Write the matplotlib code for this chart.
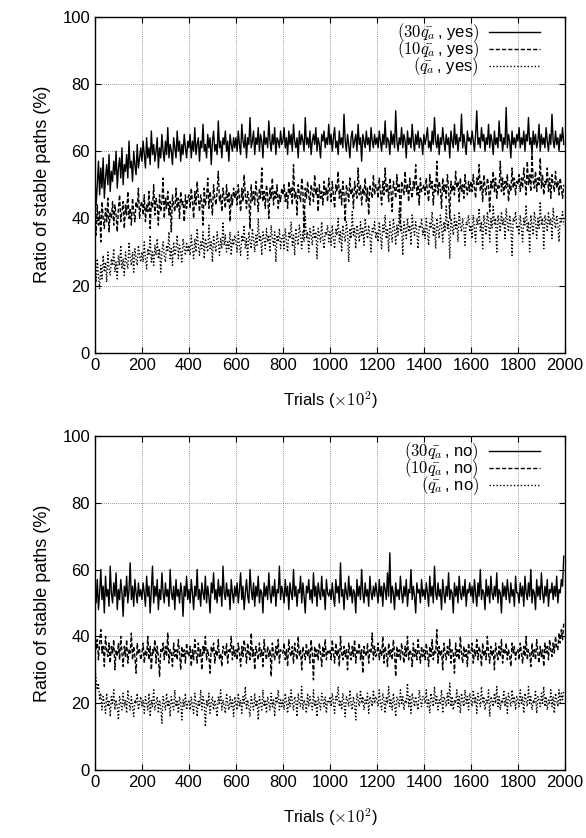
import numpy as np
import matplotlib
matplotlib.use("Agg")
import matplotlib.pyplot as plt

plt.rcParams["font.family"] = ["Liberation Sans", "DejaVu Sans"]
plt.rcParams["mathtext.fontset"] = "cm"

# one value every 5 trials (x10^2)
step = 5

yes_30 = [
    53, 44, 50, 57, 47, 55, 49, 58, 46, 52, 56, 50, 59, 48, 54, 51, 57, 53, 60, 49, 55, 58, 52, 61, 50, 56, 54, 59, 52, 63, 55, 57, 51, 60, 56, 53, 62, 55, 58, 61,
    57, 63, 59, 55, 64, 58, 61, 56, 66, 59, 62, 57, 60, 64, 55, 61, 58, 65, 60, 57, 63, 59, 67, 58, 62, 60, 56, 64, 61, 58, 66, 60, 63, 57, 62, 59, 65, 61, 58, 63,
    61, 65, 58, 63, 60, 67, 59, 62, 64, 57, 63, 61, 68, 60, 62, 58, 65, 61, 64, 56, 63, 66, 60, 62, 59, 69, 61, 63, 58, 64, 62, 66, 60, 63, 57, 65, 62, 60, 64, 61,
    64, 60, 66, 62, 59, 68, 63, 61, 65, 58, 64, 62, 70, 61, 63, 66, 59, 64, 62, 67, 60, 65, 63, 58, 66, 62, 64, 61, 69, 63, 60, 65, 62, 67, 59, 64, 63, 61, 66, 62,
    63, 67, 61, 64, 59, 66, 62, 65, 60, 68, 63, 61, 64, 58, 66, 62, 65, 63, 60, 70, 62, 64, 61, 66, 59, 63, 65, 62, 67, 60, 64, 62, 58, 65, 63, 66, 61, 64, 62, 68,
    62, 65, 60, 64, 67, 61, 63, 59, 66, 62, 64, 61, 71, 63, 60, 65, 62, 58, 64, 66, 61, 63, 65, 60, 68, 62, 64, 57, 65, 63, 61, 66, 62, 64, 60, 67, 63, 61, 65, 62,
    64, 61, 66, 63, 60, 65, 62, 69, 61, 64, 63, 59, 66, 62, 65, 61, 72, 63, 60, 64, 62, 67, 61, 65, 63, 58, 66, 62, 64, 61, 68, 63, 60, 65, 62, 66, 61, 64, 63, 59,
    65, 62, 64, 67, 61, 63, 60, 66, 62, 70, 63, 61, 65, 59, 64, 62, 67, 63, 60, 65, 62, 64, 58, 66, 63, 61, 68, 62, 65, 60, 64, 63, 71, 61, 65, 62, 59, 66, 63, 64,
    62, 66, 63, 60, 65, 72, 62, 64, 61, 67, 63, 65, 60, 64, 62, 68, 61, 65, 63, 59, 66, 62, 64, 61, 69, 63, 65, 60, 64, 62, 73, 61, 65, 63, 58, 66, 62, 64, 61, 65,
    63, 67, 61, 64, 62, 66, 60, 65, 63, 70, 62, 64, 59, 66, 62, 65, 61, 63, 68, 60, 65, 62, 64, 61, 67, 63, 60, 65, 62, 71, 63, 61, 66, 62, 64, 60, 65, 63, 67, 62,
]
yes_10 = [
    41, 35, 44, 38, 42, 33, 45, 40, 37, 43, 39, 46, 36, 42, 40, 45, 38, 44, 41, 36, 43, 47, 39, 42, 45, 37, 44, 41, 48, 40, 43, 38, 46, 42, 39, 45, 43, 49, 40, 44,
    45, 41, 47, 39, 44, 42, 48, 37, 45, 43, 50, 41, 46, 44, 38, 47, 42, 45, 52, 40, 46, 43, 48, 41, 45, 36, 47, 44, 42, 49, 43, 46, 40, 48, 44, 45, 39, 47, 43, 46,
    47, 43, 49, 45, 40, 48, 44, 51, 46, 42, 47, 45, 38, 49, 44, 46, 52, 43, 48, 45, 41, 50, 46, 44, 48, 54, 45, 47, 42, 49, 46, 43, 50, 45, 48, 39, 47, 44, 49, 46,
    48, 44, 50, 46, 42, 49, 45, 53, 47, 43, 48, 46, 37, 50, 45, 48, 44, 51, 47, 42, 49, 46, 55, 45, 48, 43, 50, 47, 40, 49, 46, 52, 44, 48, 46, 50, 43, 47, 45, 49,
    47, 50, 45, 48, 43, 51, 47, 49, 44, 56, 46, 48, 41, 50, 47, 45, 52, 48, 36, 49, 46, 51, 47, 44, 50, 48, 45, 53, 47, 49, 42, 50, 46, 48, 44, 51, 47, 49, 45, 52,
    48, 45, 51, 47, 43, 50, 48, 54, 46, 49, 44, 51, 47, 39, 50, 48, 45, 52, 47, 49, 43, 51, 48, 46, 55, 47, 50, 44, 49, 47, 52, 45, 49, 41, 50, 48, 46, 53, 47, 50,
    49, 46, 52, 48, 44, 51, 47, 55, 48, 50, 45, 52, 48, 42, 51, 49, 46, 53, 48, 50, 38, 51, 49, 47, 54, 48, 50, 45, 52, 48, 46, 51, 49, 56, 47, 50, 44, 52, 48, 49,
    50, 47, 52, 48, 45, 53, 49, 51, 44, 50, 48, 57, 47, 51, 49, 43, 52, 48, 50, 46, 53, 49, 40, 51, 48, 50, 47, 54, 49, 51, 45, 52, 48, 50, 46, 53, 49, 47, 51, 48,
    51, 48, 53, 49, 46, 52, 50, 56, 48, 51, 45, 53, 49, 47, 52, 50, 42, 51, 49, 54, 48, 52, 46, 50, 49, 57, 48, 52, 47, 51, 49, 53, 45, 50, 48, 55, 49, 52, 47, 51,
    50, 53, 48, 52, 49, 55, 51, 47, 57, 50, 53, 48, 59, 51, 49, 54, 48, 52, 50, 58, 49, 53, 47, 51, 50, 55, 48, 52, 46, 53, 50, 48, 54, 49, 51, 47, 52, 49, 46, 50,
]
yes_1 = [
    25, 21, 28, 23, 19, 26, 22, 29, 24, 27, 21, 30, 25, 23, 28, 26, 31, 24, 27, 22, 29, 26, 32, 25, 28, 23, 30, 27, 25, 33, 28, 26, 30, 24, 31, 28, 26, 32, 29, 27,
    30, 27, 33, 28, 25, 31, 29, 35, 27, 30, 26, 32, 29, 34, 28, 31, 24, 30, 33, 29, 27, 32, 30, 36, 28, 31, 26, 33, 29, 31, 35, 28, 32, 30, 27, 34, 31, 29, 33, 30,
    32, 29, 35, 31, 28, 34, 30, 37, 32, 29, 33, 31, 36, 28, 34, 32, 30, 38, 31, 33, 27, 35, 32, 30, 36, 33, 29, 34, 31, 39, 32, 35, 30, 33, 31, 36, 29, 34, 32, 35,
    33, 30, 36, 32, 29, 35, 33, 38, 31, 34, 28, 36, 33, 31, 37, 34, 30, 35, 32, 40, 33, 35, 29, 36, 34, 31, 37, 33, 35, 30, 38, 34, 32, 36, 27, 35, 33, 37, 31, 34,
    35, 31, 37, 33, 30, 36, 34, 39, 32, 35, 29, 37, 34, 32, 38, 35, 31, 36, 33, 41, 34, 36, 30, 37, 35, 32, 38, 34, 36, 28, 37, 35, 33, 39, 34, 31, 36, 35, 38, 33,
    36, 32, 38, 34, 31, 37, 35, 40, 33, 36, 30, 38, 35, 33, 39, 36, 27, 37, 34, 42, 35, 37, 31, 38, 36, 33, 39, 35, 37, 32, 40, 36, 34, 38, 35, 30, 37, 36, 39, 34,
    36, 33, 39, 35, 31, 38, 36, 41, 34, 37, 30, 39, 36, 33, 40, 37, 32, 38, 35, 43, 36, 38, 29, 39, 37, 34, 40, 36, 38, 32, 41, 37, 35, 39, 36, 31, 38, 37, 40, 35,
    37, 34, 40, 36, 32, 39, 37, 42, 35, 38, 31, 40, 37, 34, 41, 38, 33, 39, 36, 44, 37, 39, 28, 40, 38, 35, 41, 37, 39, 33, 42, 38, 36, 40, 37, 32, 39, 38, 41, 36,
    38, 34, 41, 37, 33, 40, 38, 43, 36, 39, 31, 41, 38, 35, 42, 39, 33, 40, 37, 44, 38, 40, 30, 41, 39, 36, 42, 38, 40, 34, 43, 39, 36, 41, 38, 29, 40, 39, 42, 37,
    38, 35, 41, 37, 33, 40, 38, 44, 36, 39, 30, 41, 38, 35, 42, 39, 34, 40, 37, 45, 38, 40, 31, 41, 39, 36, 42, 38, 40, 34, 43, 39, 37, 41, 38, 33, 40, 39, 42, 38,
]

no_30 = [
    55, 50, 57, 48, 53, 60, 51, 55, 47, 58, 52, 54, 49, 61, 53, 50, 56, 52, 59, 48, 54, 51, 57, 53, 46, 55, 52, 58, 50, 54, 62, 51, 55, 49, 57, 53, 50, 56, 52, 54,
    51, 56, 53, 49, 58, 52, 55, 47, 54, 61, 50, 55, 52, 57, 48, 54, 51, 59, 53, 50, 56, 52, 54, 49, 60, 53, 51, 55, 48, 57, 52, 54, 50, 56, 53, 46, 55, 52, 58, 51,
    54, 50, 57, 53, 48, 55, 52, 60, 51, 54, 49, 56, 53, 51, 58, 50, 55, 52, 47, 56, 53, 59, 51, 54, 50, 57, 52, 55, 49, 61, 53, 51, 56, 52, 54, 48, 57, 53, 50, 55,
    52, 56, 50, 54, 59, 51, 55, 48, 53, 57, 52, 50, 60, 54, 51, 56, 49, 55, 52, 58, 50, 54, 53, 47, 56, 52, 55, 51, 59, 53, 50, 55, 52, 57, 49, 54, 53, 61, 51, 55,
    53, 50, 57, 52, 55, 48, 56, 53, 51, 60, 52, 55, 49, 54, 53, 58, 50, 56, 52, 47, 55, 53, 57, 51, 54, 50, 59, 52, 55, 49, 56, 53, 51, 58, 52, 54, 48, 57, 53, 52,
    54, 51, 56, 52, 49, 57, 53, 55, 50, 62, 52, 54, 48, 56, 53, 51, 58, 52, 55, 50, 54, 53, 47, 57, 52, 55, 51, 60, 53, 50, 56, 52, 54, 49, 58, 53, 51, 55, 52, 56,
    53, 50, 57, 52, 55, 49, 56, 54, 51, 59, 52, 65, 50, 55, 53, 48, 56, 52, 54, 51, 58, 53, 50, 55, 52, 57, 49, 54, 53, 60, 51, 55, 52, 47, 56, 53, 54, 50, 57, 52,
    54, 51, 56, 53, 49, 58, 52, 55, 50, 61, 53, 51, 56, 52, 54, 48, 57, 53, 50, 55, 52, 59, 51, 54, 53, 47, 56, 52, 55, 50, 58, 53, 51, 55, 52, 57, 49, 54, 53, 56,
    52, 55, 50, 57, 53, 49, 56, 52, 60, 51, 54, 53, 48, 57, 52, 55, 50, 58, 53, 51, 55, 52, 59, 50, 54, 53, 47, 56, 52, 55, 51, 57, 53, 50, 56, 52, 54, 49, 58, 53,
    53, 50, 56, 52, 55, 49, 58, 53, 51, 56, 52, 60, 50, 54, 53, 48, 57, 52, 55, 51, 59, 53, 50, 55, 52, 57, 49, 54, 53, 56, 51, 55, 52, 58, 50, 54, 53, 57, 55, 64,
]
no_10 = [
    41, 36, 39, 33, 38, 42, 35, 37, 31, 40, 36, 34, 38, 32, 37, 35, 39, 30, 36, 34, 38, 33, 40, 35, 31, 37, 34, 39, 32, 36, 35, 41, 33, 37, 34, 29, 38, 35, 36, 33,
    35, 38, 32, 36, 34, 40, 33, 37, 30, 36, 35, 39, 32, 37, 34, 28, 36, 35, 38, 33, 37, 34, 41, 32, 36, 35, 31, 38, 34, 36, 33, 39, 35, 30, 37, 34, 36, 32, 38, 35,
    34, 37, 31, 36, 33, 39, 35, 32, 38, 34, 36, 30, 37, 35, 40, 33, 36, 34, 29, 37, 35, 38, 32, 36, 34, 39, 33, 35, 31, 37, 36, 34, 38, 32, 36, 35, 40, 33, 37, 34,
    36, 33, 38, 35, 31, 37, 34, 39, 36, 32, 38, 35, 33, 41, 34, 36, 30, 37, 35, 33, 38, 34, 36, 31, 39, 35, 33, 37, 34, 36, 28, 38, 35, 33, 37, 34, 39, 32, 36, 35,
    35, 38, 33, 36, 31, 39, 35, 34, 37, 32, 38, 35, 33, 40, 34, 36, 30, 37, 35, 33, 38, 34, 36, 32, 39, 35, 27, 37, 34, 36, 33, 38, 35, 31, 37, 34, 39, 33, 36, 35,
    36, 33, 39, 35, 32, 38, 34, 36, 31, 40, 35, 33, 37, 34, 36, 30, 38, 35, 33, 37, 34, 39, 32, 36, 35, 38, 33, 36, 29, 37, 35, 34, 38, 32, 36, 35, 41, 33, 37, 34,
    35, 38, 33, 36, 34, 40, 32, 37, 35, 31, 38, 34, 36, 33, 39, 35, 28, 37, 34, 36, 33, 38, 35, 32, 37, 34, 40, 33, 36, 35, 31, 38, 34, 36, 33, 39, 35, 32, 37, 34,
    36, 33, 38, 35, 31, 37, 34, 39, 33, 36, 35, 42, 32, 37, 34, 36, 30, 38, 35, 33, 37, 34, 39, 32, 36, 35, 29, 38, 34, 36, 33, 40, 35, 32, 37, 34, 36, 31, 38, 35,
    35, 38, 32, 36, 34, 39, 33, 37, 35, 31, 38, 34, 36, 33, 40, 35, 32, 37, 34, 36, 30, 38, 35, 33, 37, 34, 39, 32, 36, 35, 38, 33, 36, 34, 31, 38, 35, 37, 33, 36,
    36, 33, 38, 35, 32, 37, 34, 40, 33, 36, 35, 31, 38, 34, 36, 33, 39, 35, 32, 37, 34, 36, 31, 38, 35, 37, 33, 39, 36, 34, 38, 35, 40, 37, 36, 41, 38, 42, 39, 44,
]
no_1 = [
    31, 27, 24, 26, 21, 23, 18, 22, 20, 17, 23, 19, 21, 16, 22, 20, 24, 18, 21, 19, 15, 22, 20, 18, 23, 19, 21, 17, 24, 20, 18, 22, 19, 16, 21, 20, 23, 18, 20, 22,
    19, 21, 17, 22, 20, 18, 23, 16, 21, 19, 24, 18, 20, 22, 17, 21, 19, 14, 22, 20, 18, 23, 19, 21, 16, 22, 20, 18, 24, 19, 21, 17, 22, 20, 15, 21, 19, 23, 18, 20,
    21, 18, 22, 19, 17, 23, 20, 16, 21, 19, 24, 18, 22, 20, 13, 21, 19, 23, 17, 20, 22, 18, 21, 19, 16, 22, 20, 24, 18, 21, 19, 17, 23, 20, 18, 22, 19, 21, 16, 22,
    20, 18, 23, 19, 21, 17, 22, 20, 25, 18, 21, 19, 16, 22, 20, 18, 23, 19, 21, 15, 22, 20, 18, 24, 19, 21, 17, 22, 20, 18, 23, 19, 21, 16, 22, 20, 24, 18, 21, 19,
    21, 18, 23, 20, 17, 22, 19, 24, 20, 18, 22, 21, 16, 23, 20, 19, 25, 18, 21, 20, 17, 23, 19, 22, 20, 18, 24, 19, 21, 16, 22, 20, 18, 23, 21, 19, 22, 17, 21, 20,
    22, 19, 23, 20, 17, 22, 21, 25, 19, 21, 18, 23, 20, 16, 22, 21, 19, 24, 20, 18, 22, 20, 15, 23, 21, 19, 24, 20, 22, 18, 21, 20, 23, 17, 22, 21, 19, 24, 20, 22,
    21, 19, 24, 20, 18, 23, 21, 17, 22, 20, 25, 19, 21, 18, 23, 20, 16, 22, 21, 19, 24, 20, 22, 18, 21, 20, 26, 19, 22, 17, 23, 21, 19, 22, 20, 18, 24, 21, 19, 22,
    22, 20, 24, 19, 21, 17, 23, 21, 19, 25, 20, 22, 18, 21, 20, 24, 17, 22, 21, 19, 23, 20, 26, 19, 22, 18, 21, 20, 24, 19, 22, 17, 23, 21, 19, 24, 20, 22, 18, 23,
    21, 19, 24, 20, 22, 17, 23, 21, 19, 25, 20, 22, 18, 21, 20, 24, 16, 22, 21, 19, 23, 20, 25, 19, 22, 18, 21, 20, 24, 19, 22, 17, 23, 21, 19, 24, 20, 22, 18, 22,
    21, 19, 24, 20, 22, 17, 23, 21, 19, 25, 20, 22, 18, 21, 20, 24, 17, 22, 21, 19, 23, 20, 25, 19, 22, 18, 21, 20, 24, 19, 22, 17, 23, 21, 19, 24, 20, 23, 21, 24,
]

styles = ["-", (0, (3, 1.5)), (0, (1, 1.5))]

fig = plt.figure(figsize=(5.86, 8.38), dpi=100)
ax1 = fig.add_axes([0.162, 0.579, 0.802, 0.401])
ax2 = fig.add_axes([0.162, 0.081, 0.802, 0.399])

panels = [
    (ax1, [yes_30, yes_10, yes_1], "yes"),
    (ax2, [no_30, no_10, no_1], "no"),
]

for ax, series, tag in panels:
    labels = [r"$(30\bar{q_a}\,$, %s$)$" % tag,
              r"$(10\bar{q_a}\,$, %s$)$" % tag,
              r"$(\bar{q_a}\,$, %s$)$" % tag]
    for vals, ls, lab in zip(series, styles, labels):
        x = step * np.arange(len(vals))
        ax.plot(x, vals, color="black", lw=1.0, linestyle=ls, label=lab)
    ax.set_xlim(0, 2000)
    ax.set_ylim(0, 100)
    ax.set_xticks(range(0, 2001, 200))
    ax.set_yticks(range(0, 101, 20))
    ax.grid(True, color="#777777", linestyle=(0, (1, 1.5)), linewidth=0.6)
    ax.tick_params(direction="in", top=True, right=True, labelsize=12, length=4)
    ax.set_ylabel("Ratio of stable paths (%)", fontsize=13, labelpad=8)
    ax.set_xlabel(r"Trials ($\times 10^2$)", fontsize=12, labelpad=12)
    for s in ax.spines.values():
        s.set_linewidth(1.0)
    ax.legend(loc="upper right", bbox_to_anchor=(0.955, 0.995),
              frameon=False, markerfirst=False, handlelength=3.1,
              fontsize=12, labelspacing=-0.35, borderpad=0.2,
              borderaxespad=0.0, handletextpad=0.6)

fig.savefig("out.png", dpi=100)
